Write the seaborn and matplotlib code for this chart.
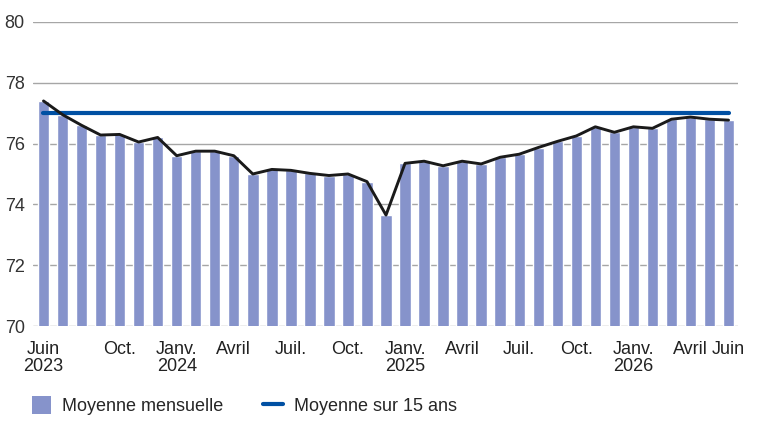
import pandas as pd
import matplotlib.pyplot as plt
import seaborn as sns
from matplotlib.patches import Patch
from matplotlib.lines import Line2D

# monthly values, Juin 2023 -> Juin 2026
mois = [
    "2023-06", "2023-07", "2023-08", "2023-09", "2023-10", "2023-11", "2023-12",
    "2024-01", "2024-02", "2024-03", "2024-04", "2024-05", "2024-06", "2024-07",
    "2024-08", "2024-09", "2024-10", "2024-11", "2024-12", "2025-01", "2025-02",
    "2025-03", "2025-04", "2025-05", "2025-06", "2025-07", "2025-08", "2025-09",
    "2025-10", "2025-11", "2025-12", "2026-01", "2026-02", "2026-03", "2026-04",
    "2026-05", "2026-06",
]
moyenne_mensuelle = [
    77.4, 76.95, 76.6, 76.28, 76.3, 76.05, 76.2,
    75.6, 75.75, 75.75, 75.6, 75.0, 75.15, 75.12,
    75.02, 74.95, 75.0, 74.75, 73.65, 75.35, 75.42,
    75.27, 75.42, 75.33, 75.55, 75.65, 75.87, 76.07,
    76.25, 76.55, 76.37, 76.55, 76.5, 76.8, 76.87,
    76.8, 76.77,
]
moyenne_15_ans = 77.0

tick_pos = [0, 4, 7, 10, 13, 16, 19, 22, 25, 28, 31, 34, 36]
tick_labels = ["Juin\n2023", "Oct.", "Janv.\n2024", "Avril", "Juil.", "Oct.",
               "Janv.\n2025", "Avril", "Juil.", "Oct.", "Janv.\n2026", "Avril", "Juin"]

bar_color = "#8693CB"
avg_color = "#0050A3"

df = pd.DataFrame({
    "mois": mois,
    "idx": range(len(mois)),
    "valeur": moyenne_mensuelle,
    "moy15": [moyenne_15_ans] * len(mois),
})

sns.set_theme(style="white")
plt.rcParams["font.family"] = ["Liberation Sans Narrow", "Liberation Sans", "DejaVu Sans"]

fig = plt.figure(figsize=(7.68, 4.45), dpi=100)
ax = fig.add_axes([0.043, 0.267, 0.918, 0.684])

sns.barplot(data=df, x="idx", y="valeur", native_scale=True, width=0.6,
            color=bar_color, saturation=1, ax=ax, zorder=2)
sns.lineplot(data=df, x="idx", y="moy15", color=avg_color, lw=3, ax=ax, zorder=3)
sns.lineplot(data=df, x="idx", y="valeur", color="#1a1a1a", lw=2.1, ax=ax, zorder=4)

ax.set_ylim(70, 80)
ax.set_xlim(-0.55, 36.5)
ax.set_yticks([70, 72, 74, 76, 78, 80])
ax.set_xticks(tick_pos)
ax.set_xticklabels(tick_labels, fontsize=13, color="#222222", linespacing=1.0)
ax.tick_params(axis="y", labelsize=13, labelcolor="#333333", length=0, pad=6)
ax.tick_params(axis="x", length=0, pad=11)
ax.grid(axis="y", color="#a6a6a6", lw=1)
ax.set_axisbelow(True)
for s in ax.spines.values():
    s.set_visible(False)
ax.set_xlabel("")
ax.set_ylabel("")

handles = [
    Patch(facecolor=bar_color, edgecolor="none", label="Moyenne mensuelle"),
    Line2D([0], [0], color=avg_color, lw=3, label="Moyenne sur 15 ans"),
]
fig.legend(handles=handles, loc="center left", bbox_to_anchor=(0.02, 0.088),
           ncol=2, frameon=False, fontsize=13, handlelength=1.1, handleheight=1.1,
           handletextpad=0.6, columnspacing=2.2)

fig.savefig("out.png", dpi=100)
